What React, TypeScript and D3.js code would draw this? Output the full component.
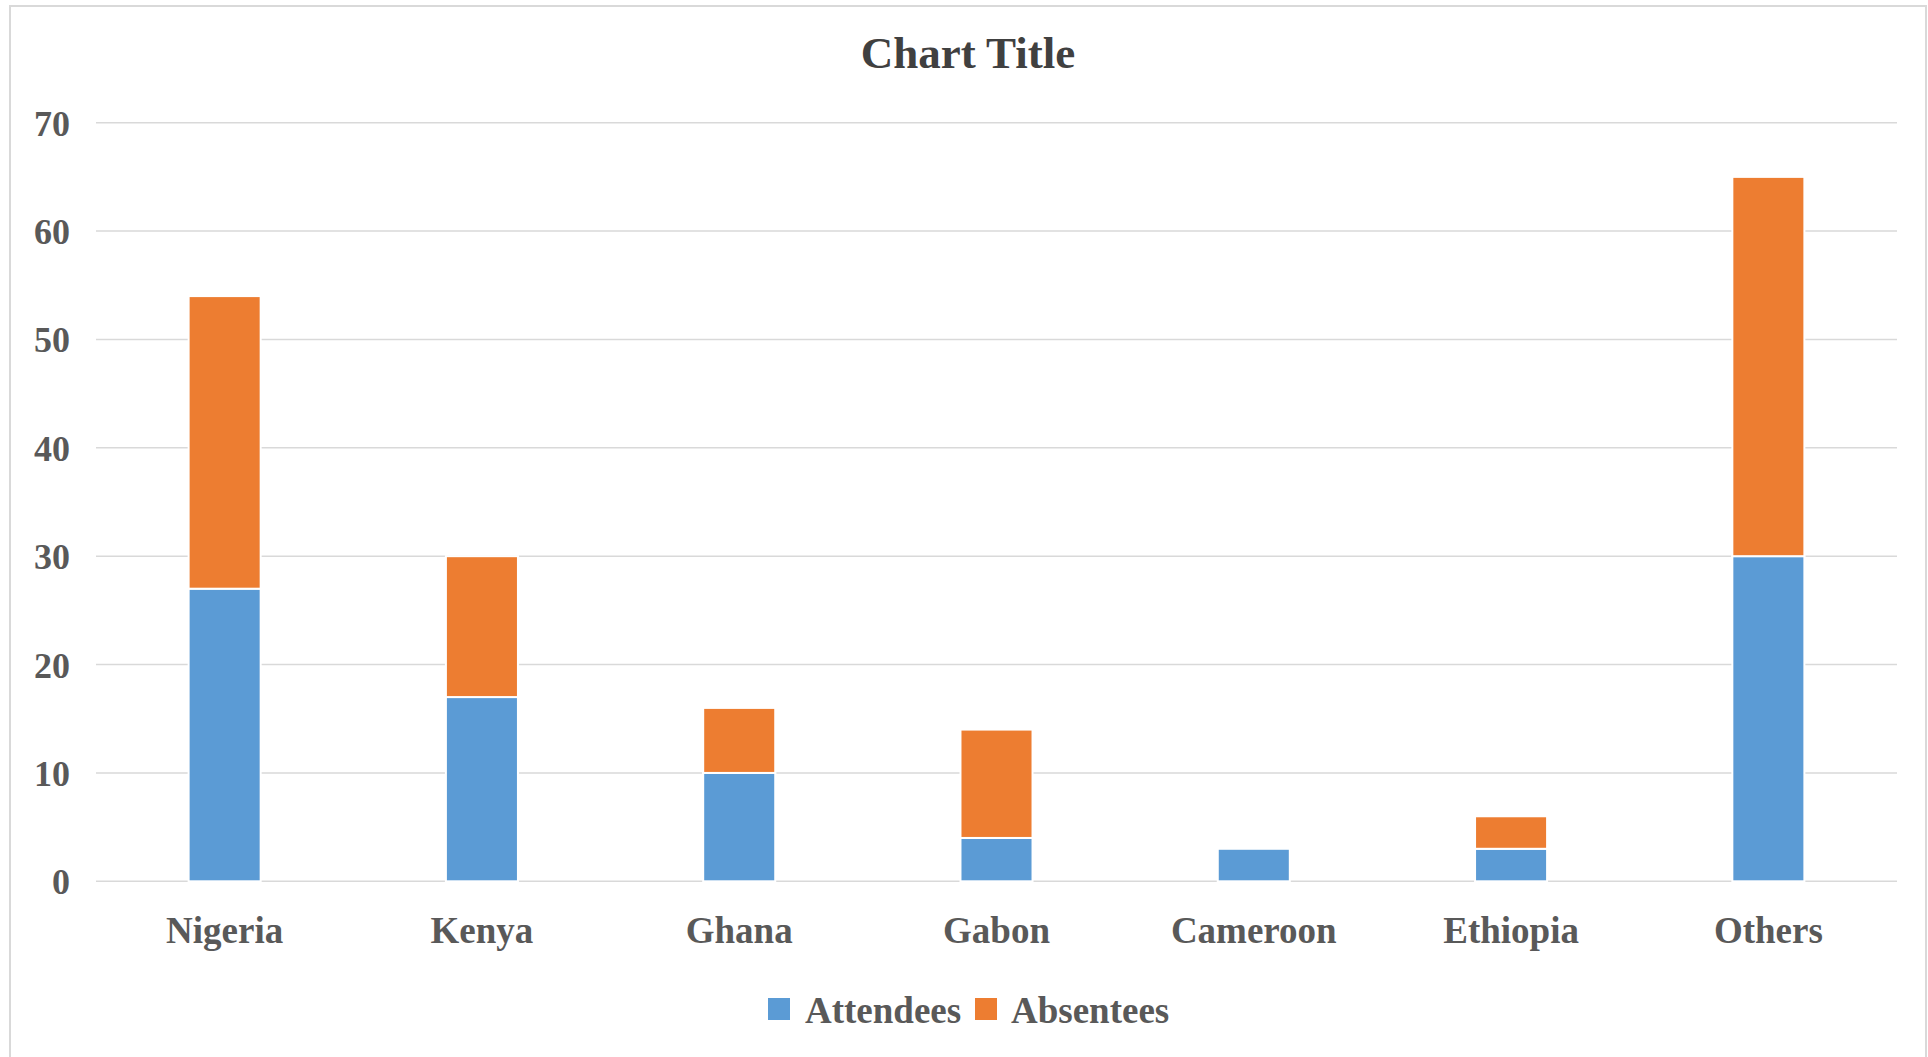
import React from "react";
import * as d3 from "d3";

const categories = ["Nigeria", "Kenya", "Ghana", "Gabon", "Cameroon", "Ethiopia", "Others"];
const attendees = [27, 17, 10, 4, 3, 3, 30];
const absentees = [27, 13, 6, 10, 0, 3, 35];
const seriesNames = ["Attendees", "Absentees"];
const seriesColors = ["#5b9bd5", "#ed7d31"];
const yTicks = [0, 10, 20, 30, 40, 50, 60, 70];

const W = 1928;
const H = 1057;
const plotLeft = 96;
const plotRight = 1897;
const plotTop = 122.7;
const plotBottom = 881.3;
const FONT = "'Liberation Serif', 'Times New Roman', serif";
const TEXT = "#595959";

export default function App() {
  const rows = categories.map((c, i) => ({
    category: c,
    Attendees: attendees[i],
    Absentees: absentees[i],
  }));

  const x = d3
    .scaleBand<string>()
    .domain(categories)
    .range([plotLeft, plotRight])
    .paddingInner(0.72)
    .paddingOuter(0.36);

  const y = d3.scaleLinear().domain([0, 70]).range([plotBottom, plotTop]);

  const stacked = d3.stack<any>().keys(seriesNames)(rows);

  return (
    <svg
      width={W}
      height={H}
      viewBox={`0 0 ${W} ${H}`}
      style={{ position: "absolute", left: 0, top: 0, background: "#fff" }}
      fontFamily={FONT}
    >
      <rect x={0} y={0} width={W} height={H} fill="#fff" />
      {/* outer chart frame */}
      <rect x={10} y={6} width={1916} height={1080} fill="none" stroke="#d9d9d9" strokeWidth={2} />

      <text x={968} y={68} textAnchor="middle" fontSize={45} fontWeight="bold" fill="#404040">
        Chart Title
      </text>

      {/* gridlines */}
      {yTicks.map((t) => (
        <line
          key={t}
          x1={plotLeft}
          x2={plotRight}
          y1={y(t)}
          y2={y(t)}
          stroke="#d9d9d9"
          strokeWidth={1.6}
        />
      ))}

      {/* y tick labels */}
      {yTicks.map((t) => (
        <text
          key={t}
          x={70}
          y={y(t) + 13}
          textAnchor="end"
          fontSize={36}
          fontWeight="bold"
          fill={TEXT}
        >
          {t}
        </text>
      ))}

      {/* stacked bars */}
      {stacked.map((layer, si) => (
        <g key={layer.key} fill={seriesColors[si]}>
          {layer.map((d, i) =>
            d[1] - d[0] > 0 ? (
              <rect
                key={i}
                x={x(categories[i])!}
                width={x.bandwidth()}
                y={y(d[1])}
                height={y(d[0]) - y(d[1])}
                stroke="#fff"
                strokeWidth={2}
              />
            ) : null
          )}
        </g>
      ))}

      {/* category labels */}
      {categories.map((c) => (
        <text
          key={c}
          x={x(c)! + x.bandwidth() / 2}
          y={943}
          textAnchor="middle"
          fontSize={37}
          fontWeight="bold"
          fill={TEXT}
        >
          {c}
        </text>
      ))}

      {/* legend */}
      <g>
        <rect x={768} y={998} width={22} height={22} fill={seriesColors[0]} />
        <text x={805} y={1023} fontSize={37} fontWeight="bold" fill={TEXT}>
          {seriesNames[0]}
        </text>
        <rect x={975} y={998} width={22} height={22} fill={seriesColors[1]} />
        <text x={1011} y={1023} fontSize={37} fontWeight="bold" fill={TEXT}>
          {seriesNames[1]}
        </text>
      </g>
    </svg>
  );
}
